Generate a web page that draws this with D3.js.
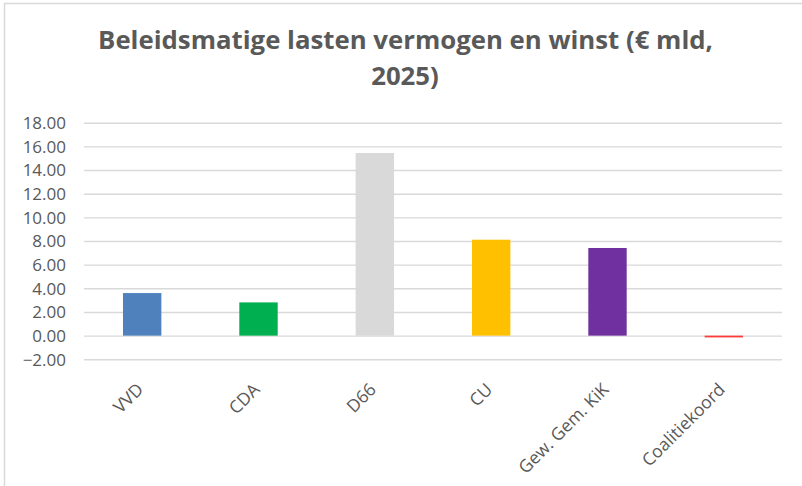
<!DOCTYPE html>
<html><head><meta charset="utf-8">
<script src="https://cdn.jsdelivr.net/npm/d3@7"></script>
<style>body{margin:0;background:#fff}svg{display:block}</style>
</head><body>
<svg id="c" width="802" height="486"></svg>
<script>
const categories = ["VVD","CDA","D66","CU","Gew. Gem. KiK","Coalitiekoord"];
const values = [3.60, 2.81, 15.44, 8.11, 7.41, -0.15];
const colors = ["#4f81bd","#00b050","#d9d9d9","#ffc000","#7030a0","#ff3b3b"];
const yTicks = [-2,0,2,4,6,8,10,12,14,16,18];
const titleLines = ["Beleidsmatige lasten vermogen en winst (€ mld,","2025)"];

const svg = d3.select("#c");
const font = "'Open Sans', sans-serif";
const txt = "#595959";

// outer frame
svg.append("rect").attr("x",4.5).attr("y",3.5).attr("width",900).attr("height",900)
  .attr("fill","none").attr("stroke","#d9d9d9").attr("stroke-width",1.5);

const x = d3.scaleBand().domain(categories).range([84,782]).paddingInner(0).paddingOuter(0);
const y = d3.scaleLinear().domain([-2,18]).range([359.3,122.7]);

// gridlines
const yAxis = d3.axisLeft(y).tickValues(yTicks).tickSize(-(782-84)).tickFormat(d3.format(".2f"));
const gy = svg.append("g").attr("transform","translate(84,0)").call(yAxis);
gy.select(".domain").remove();
gy.selectAll(".tick line").attr("stroke","#d9d9d9").attr("stroke-width",1.4);
gy.selectAll(".tick text").attr("x",-18).attr("dy","0.34em")
  .attr("fill",txt).style("font-family",font).style("font-size","17px");

// bars
const bw = x.bandwidth()*0.33;
svg.append("g").selectAll("rect").data(values).join("rect")
  .attr("x",(d,i)=>x(categories[i])+x.bandwidth()/2-bw/2)
  .attr("width",bw)
  .attr("y",d=>y(Math.max(0,d)))
  .attr("height",d=>Math.abs(y(d)-y(0)))
  .attr("fill",(d,i)=>colors[i]);

// x labels
const xAxis = d3.axisBottom(x).tickSize(0);
const gx = svg.append("g").attr("transform",`translate(0,${y(-2)})`).call(xAxis);
gx.select(".domain").remove();
gx.selectAll(".tick text")
  .attr("text-anchor","end")
  .attr("transform","translate(-2,27) rotate(-45)")
  .attr("x",0).attr("y",0).attr("dy","0.35em")
  .attr("fill",txt).style("font-family",font).style("font-size","17.5px");

// title
const t = svg.append("g");
const tl1 = t.append("text").attr("x",405.5).attr("y",48.5).attr("text-anchor","middle")
  .attr("fill",txt).style("font-family",font).style("font-weight","bold").style("font-size","24px")
  .text(titleLines[0]);
const w = tl1.node().getComputedTextLength();
const fs = 24*615/w;
tl1.style("font-size",fs+"px");
t.append("text").attr("x",405).attr("y",85).attr("text-anchor","middle")
  .attr("fill",txt).style("font-family",font).style("font-weight","bold").style("font-size",fs+"px")
  .text(titleLines[1]);
</script>
</body></html>
